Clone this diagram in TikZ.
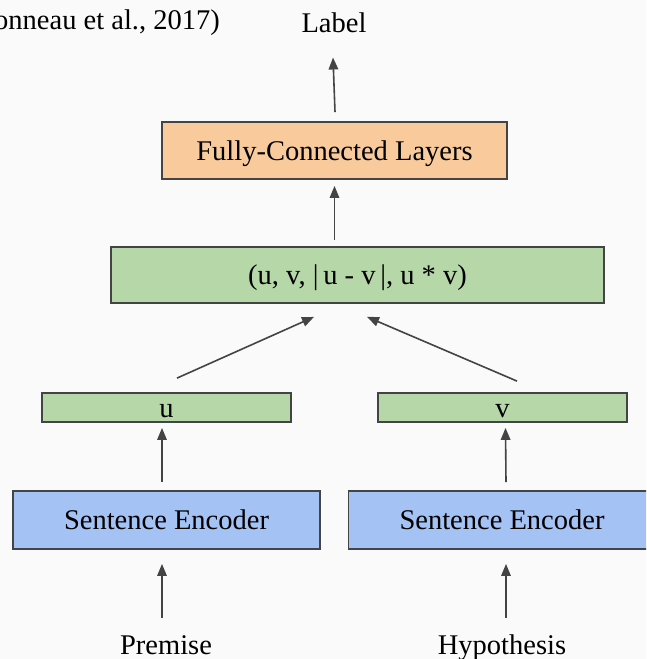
\documentclass[tikz,border=0pt]{standalone}
\usepackage{fontspec}
\setmainfont{Liberation Serif}
\usetikzlibrary{arrows.meta,calc}

\definecolor{bgcol}{RGB}{250,250,250}
\definecolor{edgecol}{RGB}{68,68,68}
\definecolor{fcfill}{RGB}{249,203,156}
\definecolor{featfill}{RGB}{182,215,168}
\definecolor{encfill}{RGB}{164,194,244}

\tikzset{
  txt/.style={inner sep=0pt, font=\fontsize{28.5}{34}\selectfont, text=black},
  blockbox/.style={draw=edgecol, line width=1.8pt, inner sep=0pt,
    text height=19.5pt, text depth=0pt, font=\fontsize{28.5}{34}\selectfont},
  fcbox/.style={blockbox, fill=fcfill},
  featbox/.style={blockbox, fill=featfill},
  encbox/.style={blockbox, fill=encfill},
  arr/.style={draw=edgecol, line width=1.6pt,
    -{Triangle[length=12pt,width=9.5pt]}},
}

\begin{document}
\begin{tikzpicture}[x=1pt, y=-1pt]
  % canvas
  \useasboundingbox (0,0) rectangle (646,659);
  \clip (0,0) rectangle (646,659);
  \fill[bgcol] (0,0) rectangle (646,659);

  % captions
  \node[txt, anchor=base east] (cite) at (220,29) {(Conneau et al., 2017)};
  \node[txt, anchor=base] (label) at (334,32) {Label};

  % classifier head
  \node[fcbox, minimum width=345pt, minimum height=57pt] (fc) at (334.5,150.5)
    {Fully-Connected Layers};
  \node[featbox, minimum width=493pt, minimum height=56pt] (feat) at (357.5,275)
    {(u, v, |\,u - v\,|, u * v)};

  % sentence vectors
  \node[featbox, minimum width=249pt, minimum height=29pt] (uvec) at (166.5,407.5) {u};
  \node[featbox, minimum width=249pt, minimum height=29pt] (vvec) at (502.5,407.5) {v};

  % encoders
  \node[encbox, minimum width=307pt, minimum height=58pt] (encp) at (166.5,520)
    {Sentence Encoder};
  \node[encbox, minimum width=307pt, minimum height=58pt] (ench) at (502,520)
    {Sentence Encoder};

  % inputs
  \node[txt, anchor=base] (prem) at (166,654) {Premise};
  \node[txt, anchor=base] (hyp) at (502,654) {Hypothesis};

  % connectors
  \draw[arr] ($(prem.base)+(-4,-36)$) -- ($(encp.south)+(-4.5,14)$);
  \draw[arr] ($(hyp.base)+(4,-36)$) -- ($(ench.south)+(4,14)$);
  \draw[arr] ($(encp.north)+(-4.5,-8)$) -- ($(uvec.south)+(-4.5,5)$);
  \draw[arr] ($(ench.north)+(4,-8)$) -- ($(vvec.south)+(3,5)$);
  \draw[arr] ($(uvec.north)+(10.5,-14)$) -- ($(feat.south)+(-43.5,13)$);
  \draw[arr] ($(vvec.north)+(14.5,-11)$) -- ($(feat.south)+(9.5,13)$);
  \draw[arr] ($(fc.south |- feat.north)+(0,-6)$) -- ($(fc.south)+(0,6)$);
  \draw[arr] ($(fc.north)+(0.5,-9)$) -- ($(label.south)+(-1,25)$);
\end{tikzpicture}
\end{document}
